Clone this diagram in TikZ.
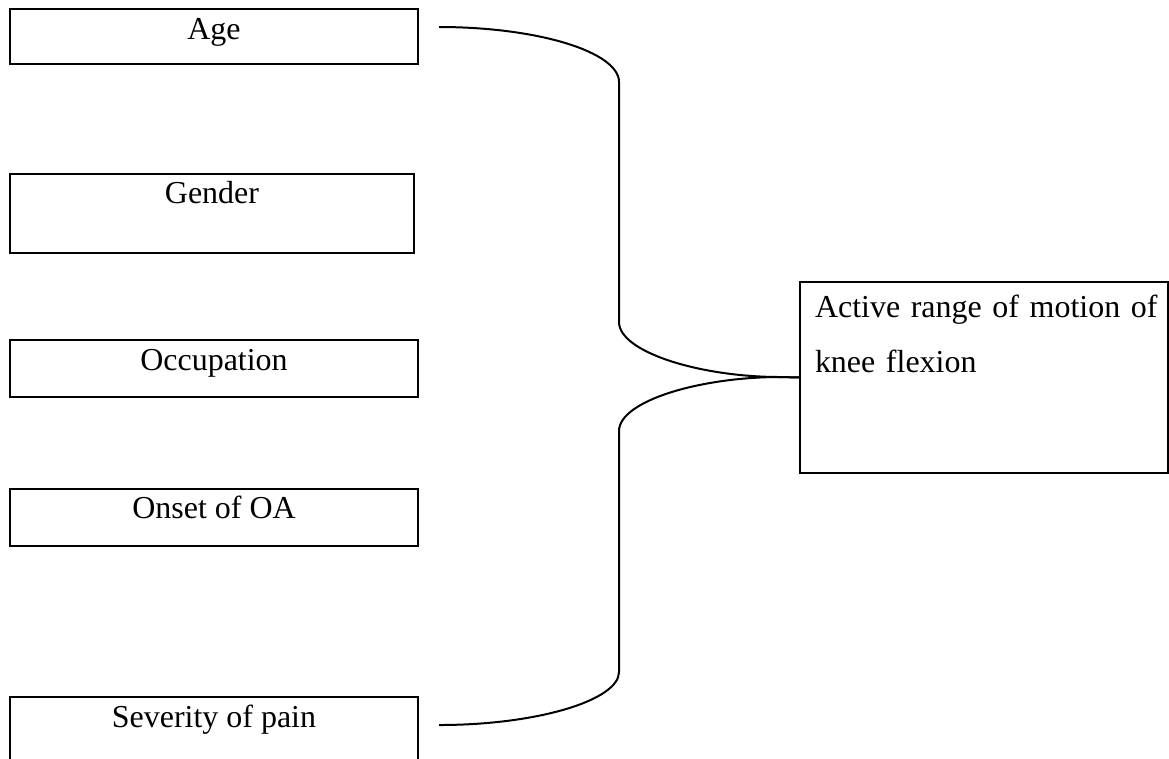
\documentclass[tikz,border=0pt]{standalone}
\usepackage{fontspec}
\setmainfont{Liberation Serif}
\newlength\pxu
\setlength\pxu{0.3755pt}

\begin{document}
\begin{tikzpicture}[x=0.3755pt, y=-0.3755pt, line width=1pt,
	factor/.style={draw, anchor=north west, inner sep=0pt, outer sep=0pt,
		font=\fontsize{12}{20.65}\selectfont}]
	\useasboundingbox (0,0) rectangle (1169,758);
	\node (age)	at (10,  9)	[factor, minimum width=408\pxu, text height=30\pxu, text depth=25\pxu]	{Age};
	\node (gender)	at (10,174)	[factor, minimum width=404\pxu, text height=29\pxu, text depth=50\pxu]	{Gender};
	\node (job)	at (10,340)	[factor, minimum width=408\pxu, text height=30\pxu, text depth=27\pxu]	{Occupation};
	\node (onset)	at (10,489)	[factor, minimum width=408\pxu, text height=29\pxu, text depth=28\pxu]	{Onset of OA};
	\node (pain)	at (10,697)	[factor, minimum width=408\pxu, text height=30\pxu, text depth=41\pxu]	{Severity of pain};
	\node (outcome)	at (800,282)	[factor, align=left, text width=338\pxu, inner xsep=15\pxu,
		text height=35\pxu, text depth=156\pxu]	{\mbox{Active range of motion of}\\knee flexion};
	% brace tips
	\coordinate (ageTip)	at (439, 27);
	\coordinate (painTip)	at (439,725);
	\draw[line width=0.75pt] (ageTip) .. controls (538,27) and (619,52) .. (619,82) -- (619,322)
		.. controls (619,352) and (700,377) .. (780,377) -- (outcome.west);
	\draw[line width=0.75pt] (outcome.west) -- (780,377) .. controls (700,377) and (619,401) .. (619,431)
		-- (619,672) .. controls (619,700) and (538,725) .. (painTip);
\end{tikzpicture}
\end{document}
